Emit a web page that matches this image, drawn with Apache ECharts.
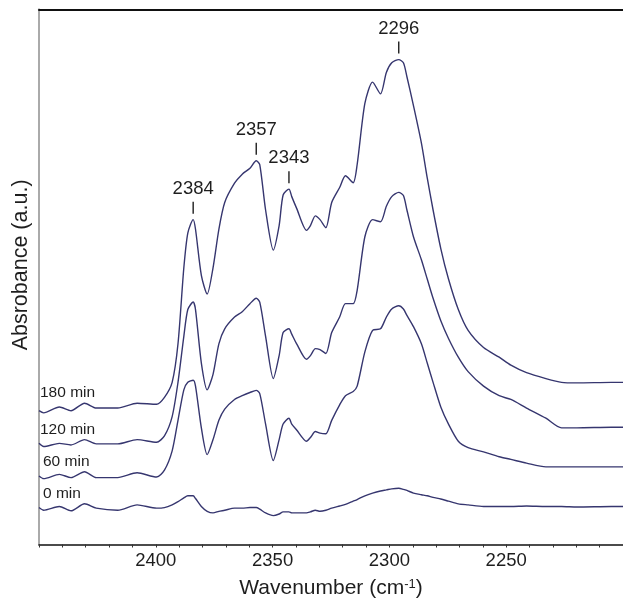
<!DOCTYPE html>
<html>
<head>
<meta charset="utf-8">
<script src="https://cdn.jsdelivr.net/npm/echarts@6/dist/echarts.min.js"></script>
<style>
  html, body { margin: 0; padding: 0; background: #fff; }
  #chart { width: 623px; height: 604px; }
</style>
</head>
<body>
<div id="chart"></div>
<script>
// Wavenumber grid (cm-1) shared by all spectra
const wavenumbers = [
  2450.0, 2448.0, 2441.3, 2436.3, 2430.5, 2425.5, 2416.3, 2408.0, 2399.7, 2396.3,
  2393.0, 2390.5, 2388.0, 2386.3, 2384.0, 2383.0, 2380.5, 2378.0, 2375.5, 2373.0,
  2370.5, 2366.3, 2363.0, 2359.7, 2357.0, 2355.5, 2353.0, 2349.7, 2347.2, 2345.5,
  2343.0, 2341.8, 2339.7, 2335.5, 2333.8, 2331.7, 2329.7, 2327.2, 2324.7, 2321.3,
  2318.8, 2315.5, 2313.8, 2310.5, 2307.2, 2303.8, 2301.3, 2299.0, 2296.0, 2294.0,
  2292.5, 2289.7, 2286.3, 2283.8, 2281.3, 2278.0, 2274.7, 2270.5, 2266.3, 2259.7,
  2253.0, 2248.0, 2241.3, 2233.0, 2226.3, 2219.7, 2205.0, 2200.0
];

// Absorbance (a.u., stacked) for each adsorption time
const abs180 = [
  0.250, 0.246, 0.257, 0.250, 0.264, 0.255, 0.255, 0.264, 0.262, 0.275,
  0.303, 0.375, 0.517, 0.582, 0.607, 0.589, 0.503, 0.468, 0.517, 0.589,
  0.639, 0.675, 0.692, 0.703, 0.717, 0.710, 0.625, 0.550, 0.596, 0.653,
  0.664, 0.650, 0.628, 0.587, 0.596, 0.614, 0.607, 0.592, 0.639, 0.667,
  0.689, 0.676, 0.710, 0.824, 0.864, 0.842, 0.882, 0.900, 0.906, 0.900,
  0.874, 0.820, 0.750, 0.685, 0.625, 0.553, 0.496, 0.439, 0.400, 0.368,
  0.350, 0.335, 0.321, 0.310, 0.303, 0.302, 0.303, 0.303
];
const abs120 = [
  0.189, 0.183, 0.189, 0.186, 0.196, 0.188, 0.188, 0.196, 0.191, 0.203,
  0.239, 0.303, 0.389, 0.439, 0.453, 0.439, 0.339, 0.289, 0.318, 0.375,
  0.403, 0.425, 0.435, 0.450, 0.460, 0.453, 0.389, 0.310, 0.353, 0.396,
  0.403, 0.393, 0.375, 0.346, 0.353, 0.366, 0.364, 0.357, 0.396, 0.425,
  0.450, 0.450, 0.475, 0.575, 0.607, 0.603, 0.632, 0.650, 0.658, 0.652,
  0.625, 0.575, 0.532, 0.496, 0.460, 0.418, 0.385, 0.350, 0.323, 0.296,
  0.278, 0.271, 0.255, 0.236, 0.218, 0.218, 0.219, 0.219
];
const abs60 = [
  0.128, 0.123, 0.131, 0.125, 0.136, 0.125, 0.125, 0.134, 0.126, 0.139,
  0.175, 0.232, 0.289, 0.303, 0.307, 0.296, 0.218, 0.168, 0.196, 0.232,
  0.253, 0.271, 0.278, 0.284, 0.288, 0.282, 0.225, 0.157, 0.196, 0.225,
  0.236, 0.225, 0.214, 0.193, 0.200, 0.211, 0.208, 0.207, 0.232, 0.261,
  0.278, 0.286, 0.296, 0.360, 0.400, 0.403, 0.425, 0.440, 0.446, 0.440,
  0.428, 0.407, 0.375, 0.339, 0.303, 0.257, 0.225, 0.193, 0.181, 0.173,
  0.164, 0.159, 0.152, 0.145, 0.145, 0.145, 0.145, 0.145
];
const abs0 = [
  0.069, 0.064, 0.071, 0.063, 0.076, 0.068, 0.064, 0.074, 0.068, 0.069,
  0.074, 0.080, 0.087, 0.091, 0.091, 0.086, 0.071, 0.062, 0.059, 0.062,
  0.064, 0.068, 0.068, 0.069, 0.069, 0.066, 0.059, 0.054, 0.057, 0.061,
  0.061, 0.059, 0.059, 0.059, 0.061, 0.064, 0.062, 0.064, 0.068, 0.072,
  0.075, 0.081, 0.084, 0.091, 0.096, 0.100, 0.102, 0.104, 0.105, 0.103,
  0.101, 0.096, 0.093, 0.091, 0.088, 0.085, 0.081, 0.076, 0.074, 0.071,
  0.071, 0.071, 0.072, 0.071, 0.071, 0.070, 0.071, 0.071
];

const seriesNames = ['180 min', '120 min', '60 min', '0 min'];
const spectra = [abs180, abs120, abs60, abs0];

// Band positions marked on the 180 min spectrum
const peakPositions = [2384, 2357, 2343, 2296];

// Axis settings
const xMin = 2200, xMax = 2450, xInterval = 50;

const FONT = '"Liberation Sans", Arial, Helvetica, sans-serif';
const LINE_COLOR = '#36366f';
const TEXT_COLOR = '#1e1e1e';
// label offsets (px) of the time labels relative to each spectrum's first point
const timeLabelOffsets = [[1, -18], [1, -14], [4, -14], [4, -14]];

const chart = echarts.init(document.getElementById('chart'), null, { renderer: 'canvas' });

const lineSeries = spectra.map((vals, k) => ({
  name: seriesNames[k],
  type: 'line',
  data: wavenumbers.map((w, i) => [w, vals[i]]),
  showSymbol: false,
  smooth: 0.25,
  lineStyle: { color: LINE_COLOR, width: 1.4 },
  animation: false,
  z: 3
}));

const peakData = peakPositions.map(p => [p, abs180[wavenumbers.indexOf(p)]]);

const peakSeries = {
  type: 'custom',
  data: peakData,
  animation: false,
  z: 5,
  renderItem: (params, api) => {
    const pt = api.coord([api.value(0), api.value(1)]);
    return {
      type: 'group',
      children: [
        { type: 'line', shape: { x1: pt[0], y1: pt[1] - 6, x2: pt[0], y2: pt[1] - 18 },
          style: { stroke: TEXT_COLOR, lineWidth: 1.4 } },
        { type: 'text', x: pt[0], y: pt[1] - 31,
          style: { text: String(api.value(0)), fontSize: 18.5, fontFamily: FONT,
                   fill: TEXT_COLOR, align: 'center', verticalAlign: 'middle' } }
      ]
    };
  }
};

const timeLabelSeries = {
  type: 'custom',
  data: spectra.map((vals, k) => [wavenumbers[0], vals[0], k]),
  animation: false,
  z: 5,
  renderItem: (params, api) => {
    const k = api.value(2);
    const pt = api.coord([api.value(0), api.value(1)]);
    const off = timeLabelOffsets[k];
    return {
      type: 'text', x: pt[0] + off[0], y: pt[1] + off[1],
      style: { text: seriesNames[k], fontSize: 15.5, fontFamily: FONT,
               fill: TEXT_COLOR, align: 'left', verticalAlign: 'middle' }
    };
  }
};

chart.setOption({
  backgroundColor: '#ffffff',
  animation: false,
  textStyle: { fontFamily: FONT },
  grid: { left: 39, right: -9.5, top: 9.3, bottom: 54.7, containLabel: false },
  xAxis: [
    {
      type: 'value', inverse: true, min: xMin, max: xMax, interval: xInterval,
      position: 'bottom',
      name: 'Wavenumber (cm{sup|-1})',
      nameLocation: 'middle', nameGap: 33,
      nameTextStyle: {
        fontSize: 21, color: TEXT_COLOR, fontFamily: FONT,
        rich: { sup: { fontSize: 13, color: TEXT_COLOR, fontFamily: FONT, verticalAlign: 'top', padding: [0, 0, 9, 0] } }
      },
      axisLine: { show: true, onZero: false, lineStyle: { color: '#111', width: 1.6 } },
      axisTick: { show: true, inside: false, length: 3, lineStyle: { color: '#333', width: 1 } },
      minorTick: { show: true, splitNumber: 5, length: 3, lineStyle: { color: '#333', width: 1 } },
      axisLabel: { show: true, margin: 7, fontSize: 18.5, color: TEXT_COLOR, fontFamily: FONT,
                   showMinLabel: false, showMaxLabel: false,
                   formatter: v => String(v) },
      splitLine: { show: false }
    },
    {
      type: 'value', inverse: true, min: xMin, max: xMax, interval: xInterval,
      position: 'top',
      axisLine: { show: true, onZero: false, lineStyle: { color: '#111', width: 2 } },
      axisTick: { show: false },
      axisLabel: { show: false },
      splitLine: { show: false }
    }
  ],
  yAxis: {
    type: 'value', min: 0, max: 1,
    name: 'Absrobance (a.u.)',
    nameLocation: 'middle', nameGap: 7,
    nameTextStyle: { fontSize: 21.5, color: TEXT_COLOR, fontFamily: FONT, padding: [0, 0, 0, 24] },
    axisLine: { show: true, onZero: false, lineStyle: { color: '#aaaaaa', width: 2 } },
    axisTick: { show: false },
    axisLabel: { show: false },
    splitLine: { show: false }
  },
  series: [...lineSeries, peakSeries, timeLabelSeries]
});
</script>
</body>
</html>
